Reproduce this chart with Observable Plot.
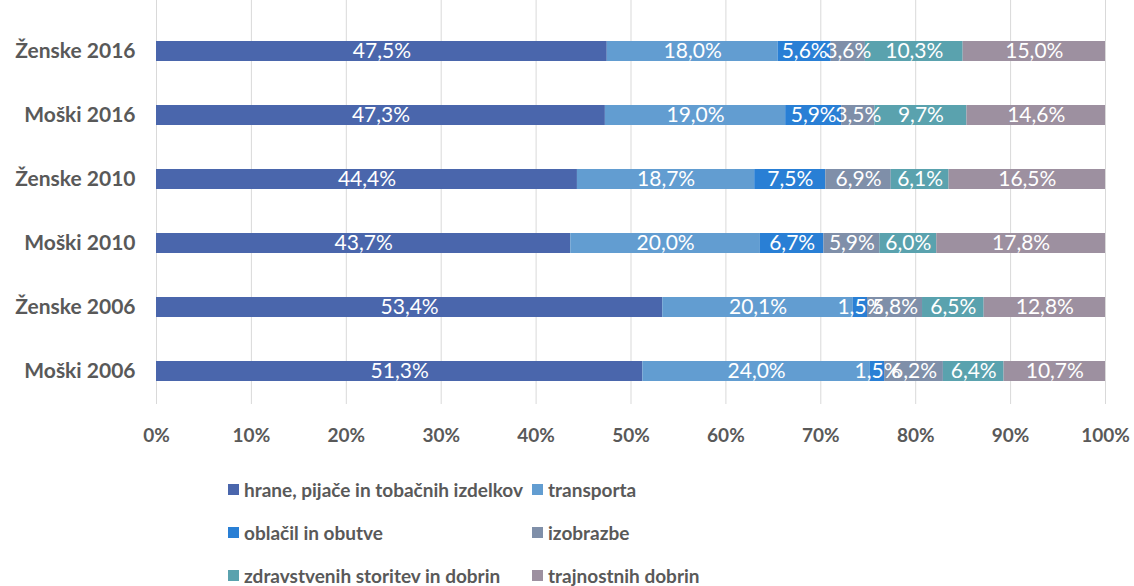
<!DOCTYPE html>
<html>
<head>
<meta charset="utf-8">
<script src="https://cdn.jsdelivr.net/npm/d3@7"></script>
<script src="https://cdn.jsdelivr.net/npm/@observablehq/plot@0.6"></script>
<style>
  body { margin: 0; background: #fff; font-family: Lato, "Open Sans", sans-serif; }
  #chart svg { display: block; }
  .legend { display: grid; grid-template-columns: 304px 300px; margin-left: 228px; margin-top: 13px; }
  .legend div { height: 43px; display: flex; align-items: center; font-size: 19px; font-weight: bold; color: #595959; white-space: nowrap; }
  .legend span.sw { display: inline-block; width: 11px; height: 11px; margin-right: 5px; }
</style>
</head>
<body>
<div id="chart"></div>
<div class="legend" id="legend"></div>
<script>
const groups = ["Ženske 2016", "Moški 2016", "Ženske 2010", "Moški 2010", "Ženske 2006", "Moški 2006"];
const categories = ["hrane, pijače in tobačnih izdelkov", "transporta", "oblačil in obutve", "izobrazbe", "zdravstvenih storitev in dobrin", "trajnostnih dobrin"];
const colors = ["#4a66ac", "#629dd1", "#297fd5", "#7f8fa9", "#5aa2ae", "#9d90a0"];
const hrane        = [47.5, 47.3, 44.4, 43.7, 53.4, 51.3];
const transporta   = [18.0, 19.0, 18.7, 20.0, 20.1, 24.0];
const oblacil      = [5.6, 5.9, 7.5, 6.7, 1.5, 1.5];
const izobrazbe    = [3.6, 3.5, 6.9, 5.9, 5.8, 6.2];
const zdravstvenih = [10.3, 9.7, 6.1, 6.0, 6.5, 6.4];
const trajnostnih  = [15.0, 14.6, 16.5, 17.8, 12.8, 10.7];
const xTicks = [0, 0.1, 0.2, 0.3, 0.4, 0.5, 0.6, 0.7, 0.8, 0.9, 1];

const series = [hrane, transporta, oblacil, izobrazbe, zdravstvenih, trajnostnih];
const data = [];
groups.forEach((g, gi) => {
  categories.forEach((c, ci) => data.push({group: g, cat: c, value: series[ci][gi]}));
});

const fmt = v => v.toFixed(1).replace(".", ",") + "%";

const chart = Plot.plot({
  width: 1134,
  height: 455,
  marginTop: 0,
  marginBottom: 51,
  marginLeft: 156,
  marginRight: 29,
  style: {fontFamily: "Lato, 'Open Sans', sans-serif"},
  x: {domain: [0, 1], axis: null, label: null},
  y: {domain: groups, insetTop: 17, paddingInner: 0.69, paddingOuter: 0.345, axis: null, label: null},
  color: {domain: categories, range: colors},
  marks: [
    Plot.gridX(xTicks, {stroke: "#d9d9d9", strokeOpacity: 1, strokeWidth: 1}),
    Plot.barX(data, Plot.stackX({offset: "normalize", x: "value", y: "group", z: "cat", fill: "cat"})),
    Plot.text(data, Plot.stackX({offset: "normalize", x: "value", y: "group", z: "cat",
      text: d => fmt(d.value), fill: "white", fontSize: 21})),
    Plot.axisX({ticks: xTicks, label: null, tickFormat: d => Math.round(d * 100) + "%", tickSize: 0, tickPadding: 24,
      fontSize: 19, fontWeight: "bold", color: "#595959"}),
    Plot.axisY({label: null, tickSize: 0, tickPadding: 21, fontSize: 21, fontWeight: "bold", color: "#595959"})
  ]
});
document.getElementById("chart").appendChild(chart);

const legend = document.getElementById("legend");
categories.forEach((c, i) => {
  const d = document.createElement("div");
  d.innerHTML = `<span class="sw" style="background:${colors[i]}"></span>${c}`;
  legend.appendChild(d);
});
</script>
</body>
</html>
